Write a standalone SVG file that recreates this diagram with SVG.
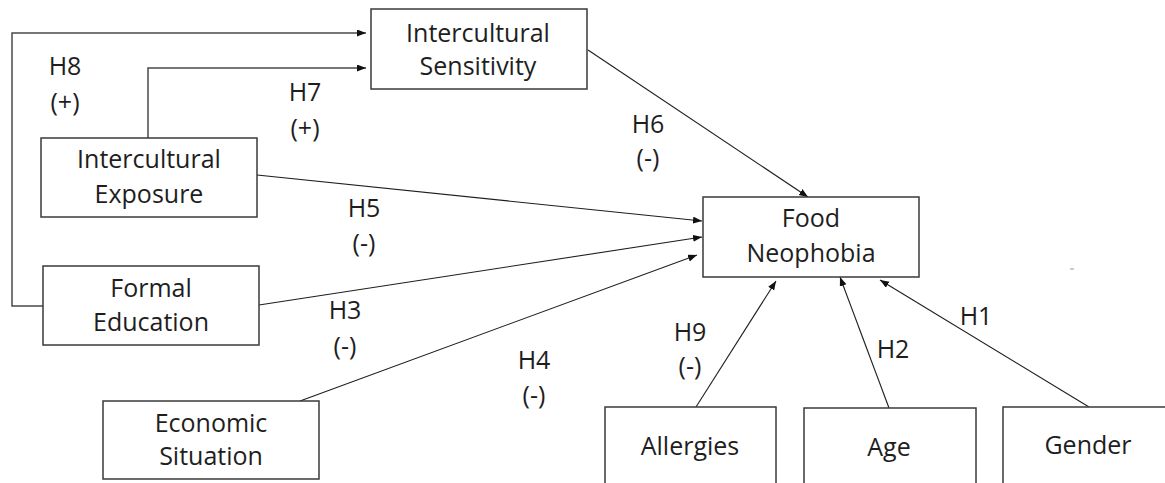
<svg xmlns="http://www.w3.org/2000/svg" width="1165" height="483" viewBox="0 0 1165 483">
  <style>
    .box { fill: #ffffff; stroke: #3a3a3a; stroke-width: 1.5; }
    .lbl { font-family: "Open Sans", "Liberation Sans", sans-serif; font-size: 25px; fill: #1e1e1e; text-anchor: middle; }
    .elbow { fill: none; stroke: #4a4a4a; stroke-width: 1.5; marker-end: url(#arrow); }
    .edge { fill: none; stroke: #1e1e1e; stroke-width: 1.1; marker-end: url(#arrow); }
  </style>
  <defs>
    <marker id="arrow" markerUnits="userSpaceOnUse" markerWidth="10" markerHeight="8" refX="9" refY="3.5" orient="auto">
      <path d="M0,0 L9,3.5 L0,7 z" fill="#111111"/>
    </marker>
  </defs>

  <rect width="1165" height="483" fill="#ffffff"/>

  <!-- connectors and their hypothesis labels -->
  <g id="connectors">
    <polyline class="elbow" points="43,306 12,306 12,33 366,33"/>
    <polyline class="elbow" points="148,138 148,68 366,68"/>
    <line class="edge" x1="588" y1="50" x2="808" y2="197"/>
    <line class="edge" x1="257" y1="175" x2="702" y2="221"/>
    <line class="edge" x1="259" y1="305" x2="702" y2="237"/>
    <line class="edge" x1="300" y1="401" x2="697" y2="255"/>
    <line class="edge" x1="696" y1="407" x2="776" y2="281"/>
    <line class="edge" x1="889" y1="408" x2="840" y2="277"/>
    <line class="edge" x1="1089" y1="407" x2="880" y2="280"/>

    <text class="lbl" x="65" y="75">H8</text>
    <text class="lbl" x="65" y="111">(+)</text>
    <text class="lbl" x="305" y="101">H7</text>
    <text class="lbl" x="305" y="137">(+)</text>
    <text class="lbl" x="648" y="133">H6</text>
    <text class="lbl" x="648" y="167">(-)</text>
    <text class="lbl" x="364" y="217">H5</text>
    <text class="lbl" x="364" y="252">(-)</text>
    <text class="lbl" x="345" y="319">H3</text>
    <text class="lbl" x="345" y="355">(-)</text>
    <text class="lbl" x="534" y="369">H4</text>
    <text class="lbl" x="534" y="404">(-)</text>
    <text class="lbl" x="690" y="341">H9</text>
    <text class="lbl" x="690" y="375">(-)</text>
    <text class="lbl" x="893" y="358">H2</text>
    <text class="lbl" x="976" y="325">H1</text>
  </g>

  <g id="intercultural-sensitivity">
    <rect class="box" x="371" y="9" width="216" height="80"/>
    <text class="lbl" x="478" y="42">Intercultural</text>
    <text class="lbl" x="478" y="75">Sensitivity</text>
  </g>

  <g id="intercultural-exposure">
    <rect class="box" x="41" y="138" width="216" height="79"/>
    <text class="lbl" x="149" y="168">Intercultural</text>
    <text class="lbl" x="149" y="203">Exposure</text>
  </g>

  <g id="formal-education">
    <rect class="box" x="43" y="266" width="216" height="79"/>
    <text class="lbl" x="151" y="297">Formal</text>
    <text class="lbl" x="151" y="331">Education</text>
  </g>

  <g id="economic-situation">
    <rect class="box" x="103" y="401" width="216" height="78"/>
    <text class="lbl" x="211" y="432">Economic</text>
    <text class="lbl" x="211" y="465">Situation</text>
  </g>

  <g id="food-neophobia">
    <rect class="box" x="703" y="197" width="216" height="80"/>
    <text class="lbl" x="811" y="227">Food</text>
    <text class="lbl" x="811" y="262">Neophobia</text>
  </g>

  <g id="allergies">
    <rect class="box" x="605" y="407" width="171" height="90"/>
    <text class="lbl" x="690" y="455">Allergies</text>
  </g>

  <g id="age">
    <rect class="box" x="804" y="408" width="172" height="90"/>
    <text class="lbl" x="889" y="456">Age</text>
  </g>

  <g id="gender">
    <rect class="box" x="1003" y="407" width="180" height="90"/>
    <text class="lbl" x="1088" y="454">Gender</text>
  </g>

  <!-- stray tick mark -->
  <line x1="1070" y1="269" x2="1074" y2="269" stroke="#9a9a9a" stroke-width="1"/>
</svg>
